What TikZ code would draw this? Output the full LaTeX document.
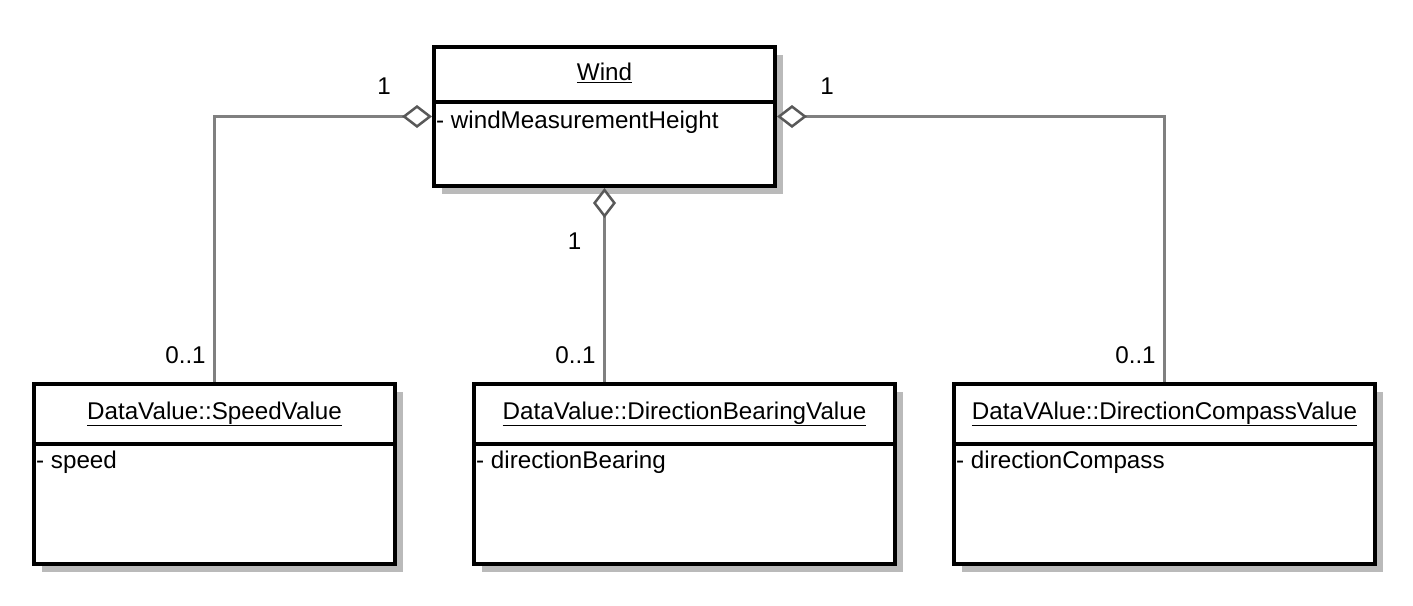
\documentclass[tikz,border=0pt]{standalone}
\usepackage{fontspec}
\setmainfont{Liberation Sans}
\usetikzlibrary{arrows.meta,positioning,shadows,calc}

\begin{document}
\begin{tikzpicture}[x=1pt,y=-1pt,font=\fontsize{24.2}{28}\selectfont,
	umlclass/.style={draw, line width=4pt, fill=white, anchor=north west, inner sep=0pt,
		drop shadow={shadow xshift=8pt, shadow yshift=-8pt, fill=black!27, opacity=1}},
	divider/.style={line width=4pt},
	classname/.style={inner sep=0pt},
	attr/.style={inner sep=0pt, anchor=west},
	mult/.style={inner sep=0pt},
	assoc/.style={draw=black!50, line width=3pt},
	aggr/.style={assoc, -{Diamond[open, length=30pt, width=23pt, fill=white, line width=2.5pt, color=black!65]}}]
	   \useasboundingbox (0,0) rectangle (1413,605);
	   % classes
	   \node[umlclass, minimum width=341pt, minimum height=139pt] (wind) at (432,45) {};
	   \node[umlclass, minimum width=361pt, minimum height=180pt] (speed) at (32,382) {};
	   \node[umlclass, minimum width=421pt, minimum height=180pt] (dirbear) at (472,382) {};
	   \node[umlclass, minimum width=421pt, minimum height=180pt] (dircomp) at (952,382) {};
	   \draw[divider] ($(wind.north west)+(0,57)$) -- ($(wind.north east)+(0,57)$);
	   \draw[divider] ($(speed.north west)+(0,62)$) -- ($(speed.north east)+(0,62)$);
	   \draw[divider] ($(dirbear.north west)+(0,62)$) -- ($(dirbear.north east)+(0,62)$);
	   \draw[divider] ($(dircomp.north west)+(0,62)$) -- ($(dircomp.north east)+(0,62)$);
	   \node[classname] (windname) at ($(wind.north)+(0,28)$) {\underline{Wind}};
	   \node[classname] (speedname) at ($(speed.north)+(0,32)$) {\underline{DataValue::SpeedValue}};
	   \node[classname] (dirbearname) at ($(dirbear.north)+(0,32)$) {\underline{DataValue::DirectionBearingValue}};
	   \node[classname] (dircompname) at ($(dircomp.north)+(0,32)$) {\underline{DataVAlue::DirectionCompassValue}};
	   \node[attr] (windattr) at ($(wind.north west)+(4,77)$) {- windMeasurementHeight};
	   \node[attr] (speedattr) at ($(speed.north west)+(4,80)$) {- speed};
	   \node[attr] (dirbearattr) at ($(dirbear.north west)+(4,80)$) {- directionBearing};
	   \node[attr] (dircompattr) at ($(dircomp.north west)+(4,80)$) {- directionCompass};
	   % aggregations
	   \draw[aggr] (speed.north) |- (wind.west);
	   \draw[aggr] (wind.south |- dirbear.north) -- (wind.south);
	   \draw[aggr] (dircomp.north) |- (wind.east);
	   % multiplicities
	   \node[mult] (m_speed_w) at ($(wind.west)+(-48,-30)$) {1};
	   \node[mult] (m_bear_w) at ($(wind.south)+(-30,53)$) {1};
	   \node[mult] (m_comp_w) at ($(wind.east)+(50,-30)$) {1};
	   \node[mult] (m_speed) at ($(speed.north)+(-29,-27)$) {0..1};
	   \node[mult] (m_bear) at ($(wind.south |- dirbear.north)+(-29,-27)$) {0..1};
	   \node[mult] (m_comp) at ($(dircomp.north)+(-29,-27)$) {0..1};
\end{tikzpicture}
\end{document}
